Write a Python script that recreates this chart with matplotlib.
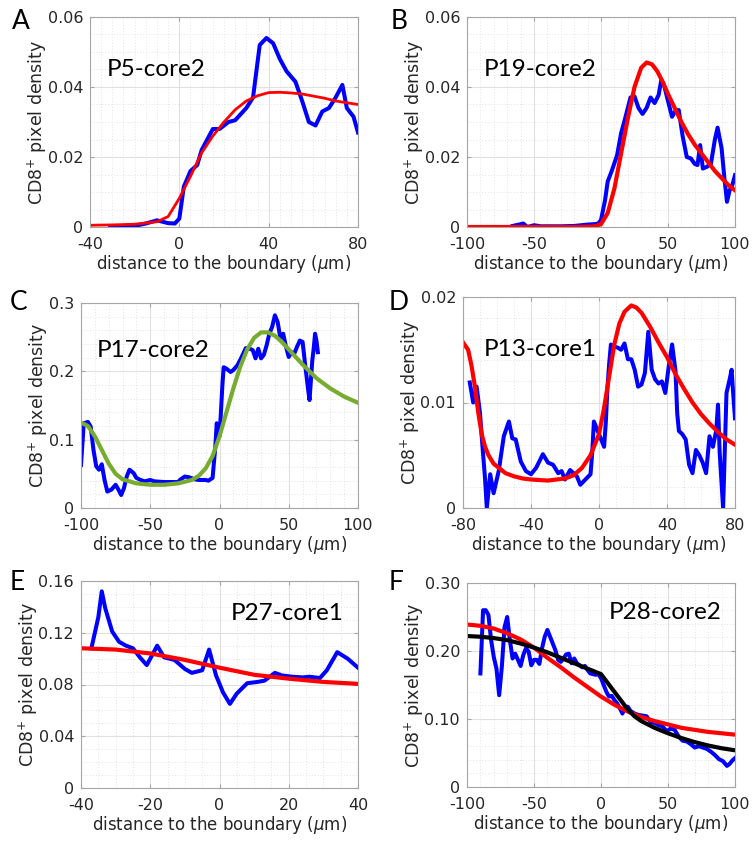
import matplotlib
matplotlib.use("Agg")
import matplotlib.pyplot as plt
from matplotlib.ticker import MultipleLocator, FixedLocator, FixedFormatter

# ---------------- data ----------------
# Panel A: P5-core2
a_x = [-31, -20, -15, -10, -5, -2, 0, 2, 5, 8, 10, 15, 18, 22, 25, 30, 33, 36, 39, 42, 45, 48, 52, 55, 58, 61, 64, 67, 70, 73, 75, 78, 80]
a_y = [0, 0.0003, 0.001, 0.0019, 0.0011, 0.001, 0.0024, 0.0115, 0.016, 0.0177, 0.022, 0.028, 0.028, 0.030, 0.0305, 0.034, 0.037, 0.052, 0.054, 0.0525, 0.048, 0.0445, 0.0415, 0.036, 0.030, 0.029, 0.033, 0.034, 0.037, 0.0406, 0.034, 0.0315, 0.027]
a_fx = [-40, -30, -20, -10, -5, 0, 5, 10, 15, 20, 25, 30, 35, 40, 45, 50, 55, 60, 65, 70, 75, 80]
a_fy = [0.0005, 0.0006, 0.0008, 0.0015, 0.003, 0.0082, 0.0145, 0.0212, 0.026, 0.030, 0.0335, 0.036, 0.0375, 0.0384, 0.0385, 0.0383, 0.038, 0.0374, 0.0368, 0.036, 0.0355, 0.035]

# Panel B: P19-core2
b_x = [-66, -60, -58, -55, -50, -45, -40, -30, -20, -15, -10, -5, -2, 0, 3, 5, 8, 12, 15, 18, 20, 22, 25, 28, 31, 34, 37, 40, 43, 45, 47, 50, 53, 56, 58, 61, 64, 67, 70, 72, 74, 76, 79, 82, 85, 87, 90, 92, 94, 96, 98, 100]
b_y = [0.0003, 0.0008, 0.001, 0.0, 0.0005, 0.0002, 0.0002, 0.0002, 0.0003, 0.0005, 0.0007, 0.0008, 0.001, 0.002, 0.0076, 0.013, 0.016, 0.0205, 0.0268, 0.031, 0.034, 0.037, 0.0373, 0.034, 0.0323, 0.034, 0.037, 0.0354, 0.0377, 0.042, 0.0406, 0.036, 0.0315, 0.0334, 0.0334, 0.0258, 0.020, 0.0196, 0.018, 0.0177, 0.0234, 0.0167, 0.0172, 0.018, 0.025, 0.0284, 0.0225, 0.0143, 0.0072, 0.0105, 0.012, 0.0148]
b_fx = [-100, -50, -20, -10, -5, 0, 5, 10, 15, 20, 25, 30, 34, 38, 42, 46, 50, 55, 60, 65, 70, 75, 80, 85, 90, 95, 100]
b_fy = [0, 0, 0, 0.0001, 0.0002, 0.0008, 0.004, 0.011, 0.021, 0.031, 0.040, 0.0455, 0.047, 0.0465, 0.0445, 0.0415, 0.038, 0.034, 0.030, 0.0265, 0.0235, 0.021, 0.0185, 0.016, 0.014, 0.012, 0.0105]

# Panel C: P17-core2
c_x = [-100, -98, -95, -93, -91, -89, -87, -85, -83, -81, -78, -75, -73, -71, -69, -67, -65, -62, -60, -57, -54, -50, -47, -40, -30, -28, -25, -22, -18, -15, -10, -8, -5, -3, -2, -1, 0, 1, 2, 3, 5, 8, 10, 13, 16, 19, 22, 24, 26, 28, 30, 32, 34, 36, 38, 40, 42, 44, 46, 48, 50, 52, 54, 56, 58, 60, 62, 64, 65, 66, 67, 68, 69, 70, 71]
c_y = [0.063, 0.124, 0.126, 0.119, 0.085, 0.061, 0.056, 0.064, 0.041, 0.024, 0.027, 0.034, 0.027, 0.019, 0.029, 0.046, 0.056, 0.051, 0.044, 0.041, 0.039, 0.041, 0.039, 0.038, 0.038, 0.042, 0.046, 0.045, 0.042, 0.041, 0.041, 0.040, 0.044, 0.090, 0.124, 0.109, 0.105, 0.139, 0.177, 0.206, 0.204, 0.199, 0.202, 0.209, 0.221, 0.234, 0.233, 0.231, 0.219, 0.233, 0.219, 0.224, 0.238, 0.255, 0.265, 0.282, 0.272, 0.248, 0.255, 0.236, 0.221, 0.228, 0.226, 0.236, 0.245, 0.243, 0.207, 0.173, 0.158, 0.187, 0.216, 0.233, 0.255, 0.245, 0.228]
c_fx = [-100, -95, -90, -85, -80, -75, -70, -60, -50, -40, -30, -20, -15, -10, -5, 0, 5, 10, 15, 20, 25, 30, 35, 40, 45, 50, 60, 70, 80, 90, 100]
c_fy = [0.125, 0.12, 0.105, 0.085, 0.065, 0.050, 0.042, 0.036, 0.034, 0.034, 0.036, 0.041, 0.047, 0.058, 0.076, 0.105, 0.140, 0.175, 0.207, 0.232, 0.249, 0.257, 0.257, 0.252, 0.243, 0.232, 0.210, 0.190, 0.175, 0.163, 0.154]

# Panel D: P13-core1
d_x = [-76, -74, -72, -70, -69, -67, -66, -64, -62, -59, -56, -53, -51, -49, -46, -43, -40, -37, -33, -30, -27, -24, -22, -20, -17, -15, -13, -11, -8, -5, -4, -3, -1, 1, 3, 4, 5, 6, 7, 9, 11, 13, 15, 17, 19, 21, 23, 25, 27, 29, 31, 33, 35, 37, 39, 41, 43, 45, 46, 47, 49, 51, 53, 55, 57, 59, 61, 63, 65, 67, 69, 70, 71, 73, 75, 77, 78, 79, 80]
d_y = [0.0119, 0.010, 0.0115, 0.009, 0.0068, 0.0027, 0.0, 0.0032, 0.0014, 0.0035, 0.0068, 0.0082, 0.0066, 0.0065, 0.0044, 0.0035, 0.0032, 0.0038, 0.0051, 0.0043, 0.0041, 0.0033, 0.0035, 0.0027, 0.0036, 0.0033, 0.003, 0.0022, 0.0027, 0.0032, 0.0052, 0.0082, 0.0074, 0.0066, 0.0058, 0.0081, 0.0115, 0.0137, 0.0155, 0.0153, 0.0152, 0.015, 0.0156, 0.0141, 0.0141, 0.0131, 0.0115, 0.0117, 0.0128, 0.0167, 0.0131, 0.0122, 0.0118, 0.012, 0.0109, 0.0134, 0.0155, 0.013, 0.009, 0.0073, 0.007, 0.0065, 0.0041, 0.0033, 0.0055, 0.005, 0.0043, 0.0033, 0.0068, 0.0058, 0.0074, 0.0098, 0.0052, 0.0, 0.0109, 0.0123, 0.0131, 0.0107, 0.0085]
d_fx = [-80, -77, -75, -73, -71, -69, -67, -65, -62, -55, -50, -45, -40, -30, -20, -15, -10, -5, 0, 3, 6, 9, 12, 15, 19, 22, 25, 30, 35, 40, 45, 50, 55, 60, 65, 70, 75, 80]
d_fy = [0.0157, 0.015, 0.0135, 0.0115, 0.009, 0.0070, 0.0058, 0.0050, 0.0042, 0.0033, 0.0030, 0.0028, 0.0027, 0.0026, 0.0028, 0.0031, 0.0038, 0.0050, 0.0070, 0.0095, 0.0125, 0.0155, 0.0175, 0.0186, 0.0192, 0.019, 0.0185, 0.0172, 0.0157, 0.0143, 0.0127, 0.0113, 0.0100, 0.0089, 0.0080, 0.0072, 0.0065, 0.0060]

# Panel E: P27-core1
e_x = [-37, -35, -34, -33, -31, -29, -27, -25, -23, -21, -18, -16, -13, -10, -8, -5, -3, -1, 1, 3, 5, 8, 11, 13, 16, 18, 21, 24, 26, 29, 31, 34, 37, 40]
e_y = [0.108, 0.132, 0.152, 0.139, 0.121, 0.113, 0.110, 0.108, 0.101, 0.095, 0.110, 0.101, 0.099, 0.092, 0.089, 0.091, 0.107, 0.087, 0.074, 0.065, 0.073, 0.081, 0.082, 0.083, 0.089, 0.087, 0.086, 0.0855, 0.086, 0.085, 0.091, 0.105, 0.100, 0.093]
e_fx = [-40, -30, -20, -10, 0, 10, 20, 30, 40]
e_fy = [0.108, 0.107, 0.104, 0.099, 0.093, 0.0875, 0.0845, 0.082, 0.0805]

# Panel F: P28-core2
f_x = [-90, -88, -86, -84, -82, -80, -78, -76, -74, -72, -70, -68, -66, -64, -62, -60, -58, -56, -54, -52, -50, -48, -46, -44, -42, -40, -38, -36, -34, -32, -30, -28, -26, -24, -22, -20, -18, -16, -14, -12, -10, -8, -6, -4, -2, 0, 2, 4, 6, 8, 10, 12, 14, 16, 18, 20, 22, 25, 28, 31, 34, 37, 40, 43, 46, 49, 52, 55, 58, 61, 64, 67, 70, 73, 76, 79, 82, 85, 88, 91, 94, 96, 98, 100]
f_y = [0.167, 0.26, 0.26, 0.253, 0.216, 0.191, 0.174, 0.135, 0.177, 0.235, 0.25, 0.216, 0.189, 0.196, 0.187, 0.178, 0.194, 0.204, 0.199, 0.179, 0.187, 0.187, 0.181, 0.204, 0.221, 0.231, 0.221, 0.211, 0.201, 0.187, 0.184, 0.189, 0.195, 0.196, 0.182, 0.189, 0.182, 0.179, 0.176, 0.178, 0.172, 0.167, 0.166, 0.165, 0.166, 0.16, 0.15, 0.14, 0.133, 0.134, 0.128, 0.123, 0.116, 0.108, 0.118, 0.118, 0.112, 0.108, 0.106, 0.105, 0.104, 0.096, 0.094, 0.091, 0.089, 0.082, 0.086, 0.084, 0.074, 0.068, 0.067, 0.063, 0.058, 0.06, 0.058, 0.056, 0.052, 0.047, 0.041, 0.038, 0.031, 0.034, 0.039, 0.0425]
f_rx = [-100, -90, -80, -70, -60, -50, -40, -30, -20, -10, 0, 10, 20, 30, 40, 50, 60, 70, 80, 90, 100]
f_ry = [0.239, 0.237, 0.233, 0.226, 0.217, 0.205, 0.19, 0.176, 0.161, 0.147, 0.133, 0.121, 0.111, 0.103, 0.097, 0.092, 0.087, 0.084, 0.081, 0.079, 0.077]
f_kx = [-100, -90, -80, -70, -60, -50, -40, -30, -20, -10, 0, 5, 10, 15, 20, 25, 30, 40, 50, 60, 70, 80, 90, 100]
f_ky = [0.222, 0.221, 0.219, 0.216, 0.211, 0.205, 0.198, 0.19, 0.182, 0.174, 0.166, 0.153, 0.14, 0.127, 0.114, 0.104, 0.097, 0.087, 0.079, 0.072, 0.066, 0.061, 0.057, 0.054]

names = ["P5-core2", "P19-core2", "P17-core2", "P13-core1", "P27-core1", "P28-core2"]
letters = ["A", "B", "C", "D", "E", "F"]

# ---------------- styling ----------------
W, H = 752, 842
fig = plt.figure(figsize=(W / 100, H / 100), dpi=100)
fig.patch.set_facecolor("white")

BLUE = "#0000ff"
RED = "#ff0000"
GREEN = "#77ac30"
TXT = "#262626"
SPINE = "#a6a6a6"

def make_ax(l, r, t, b):
    return fig.add_axes([l / W, 1 - b / H, (r - l) / W, (b - t) / H])

def style(ax, xlim, xticks, xminor, ylim, yticks, yticklabels, yminor):
    ax.set_xlim(*xlim)
    ax.set_ylim(*ylim)
    ax.xaxis.set_major_locator(FixedLocator(xticks))
    ax.xaxis.set_major_formatter(FixedFormatter([str(v) for v in xticks]))
    ax.yaxis.set_major_locator(FixedLocator(yticks))
    ax.yaxis.set_major_formatter(FixedFormatter(yticklabels))
    ax.xaxis.set_minor_locator(MultipleLocator(xminor))
    ax.yaxis.set_minor_locator(MultipleLocator(yminor))
    ax.grid(True, which="major", color="#e0e0e0", lw=0.8, ls="-")
    ax.grid(True, which="minor", color="#e3e3e3", lw=0.7, ls=(0, (1, 2)))
    ax.set_axisbelow(True)
    for s in ax.spines.values():
        s.set_color(SPINE)
        s.set_linewidth(0.8)
    ax.tick_params(which="major", direction="in", length=3, color=SPINE,
                   labelsize=11.5, labelcolor=TXT, top=True, right=True)
    ax.tick_params(axis="x", which="major", pad=7)
    ax.tick_params(axis="y", which="major", pad=5)
    ax.tick_params(which="minor", length=0)
    ax.set_xlabel("distance to the boundary ($\\mu$m)", fontsize=12, color=TXT, labelpad=1)
    ax.set_ylabel("CD8$^{+}$ pixel density", fontsize=12.5, color=TXT, labelpad=-1)

ANN_FONT = ["Lato", "DejaVu Sans"]

def annotate(ax, name, fx, fy):
    ax.text(fx, fy, name, transform=ax.transAxes, fontsize=17.5, family=ANN_FONT,
            color="black", ha="left", va="center")

def letter(ch, px, py):
    fig.text(px / W, 1 - py / H, ch, fontsize=19, family=ANN_FONT, color="black",
             ha="left", va="top")

# Panel A
ax = make_ax(90, 358, 17, 227)
ax.plot(a_x, a_y, color=BLUE, lw=2.9, solid_joinstyle="round")
ax.plot(a_fx, a_fy, color=RED, lw=2.0)
style(ax, (-40, 80), [-40, 0, 40, 80], 5, (0, 0.06), [0, 0.02, 0.04, 0.06], ["0", "0.02", "0.04", "0.06"], 0.005)
annotate(ax, names[0], 0.063, 0.748)
letter(letters[0], 12, 9)

# Panel B
ax = make_ax(467, 735, 17, 227)
ax.plot(b_x, b_y, color=BLUE, lw=2.9, solid_joinstyle="round")
ax.plot(b_fx, b_fy, color=RED, lw=3.0)
style(ax, (-100, 100), [-100, -50, 0, 50, 100], 10, (0, 0.06), [0, 0.02, 0.04, 0.06], ["0", "0.02", "0.04", "0.06"], 0.005)
annotate(ax, names[1], 0.063, 0.748)
letter(letters[1], 391, 9)

# Panel C
ax = make_ax(81, 358, 303, 508)
ax.plot(c_x, c_y, color=BLUE, lw=2.9, solid_joinstyle="round")
ax.plot(c_fx, c_fy, color=GREEN, lw=3.0)
style(ax, (-100, 100), [-100, -50, 0, 50, 100], 10, (0, 0.3), [0, 0.1, 0.2, 0.3], ["0", "0.1", "0.2", "0.3"], 0.02)
annotate(ax, names[2], 0.058, 0.766)
letter(letters[2], 10, 290)

# Panel D
ax = make_ax(463, 735, 297, 508)
ax.plot(d_x, d_y, color=BLUE, lw=2.9, solid_joinstyle="round")
ax.plot(d_fx, d_fy, color=RED, lw=3.0)
style(ax, (-80, 80), [-80, -40, 0, 40, 80], 10, (0, 0.02), [0, 0.01, 0.02], ["0", "0.01", "0.02"], 0.002)
annotate(ax, names[3], 0.077, 0.749)
letter(letters[3], 389, 290)

# Panel E
ax = make_ax(81, 358, 581, 788)
ax.plot(e_x, e_y, color=BLUE, lw=2.9, solid_joinstyle="round")
ax.plot(e_fx, e_fy, color=RED, lw=3.0)
style(ax, (-40, 40), [-40, -20, 0, 20, 40], 5, (0, 0.16), [0, 0.04, 0.08, 0.12, 0.16], ["0", "0.04", "0.08", "0.12", "0.16"], 0.01)
annotate(ax, names[4], 0.54, 0.845)
letter(letters[4], 10, 570)

# Panel F
ax = make_ax(467, 735, 583, 787)
ax.plot(f_x, f_y, color=BLUE, lw=2.9, solid_joinstyle="round")
ax.plot(f_rx, f_ry, color=RED, lw=3.0)
ax.plot(f_kx, f_ky, color="black", lw=3.0)
style(ax, (-100, 100), [-100, -50, 0, 50, 100], 10, (0, 0.3), [0, 0.1, 0.2, 0.3], ["0", "0.10", "0.20", "0.30"], 0.02)
annotate(ax, names[5], 0.53, 0.853)
letter(letters[5], 389, 570)

fig.savefig("out.png", dpi=100, facecolor="white")
